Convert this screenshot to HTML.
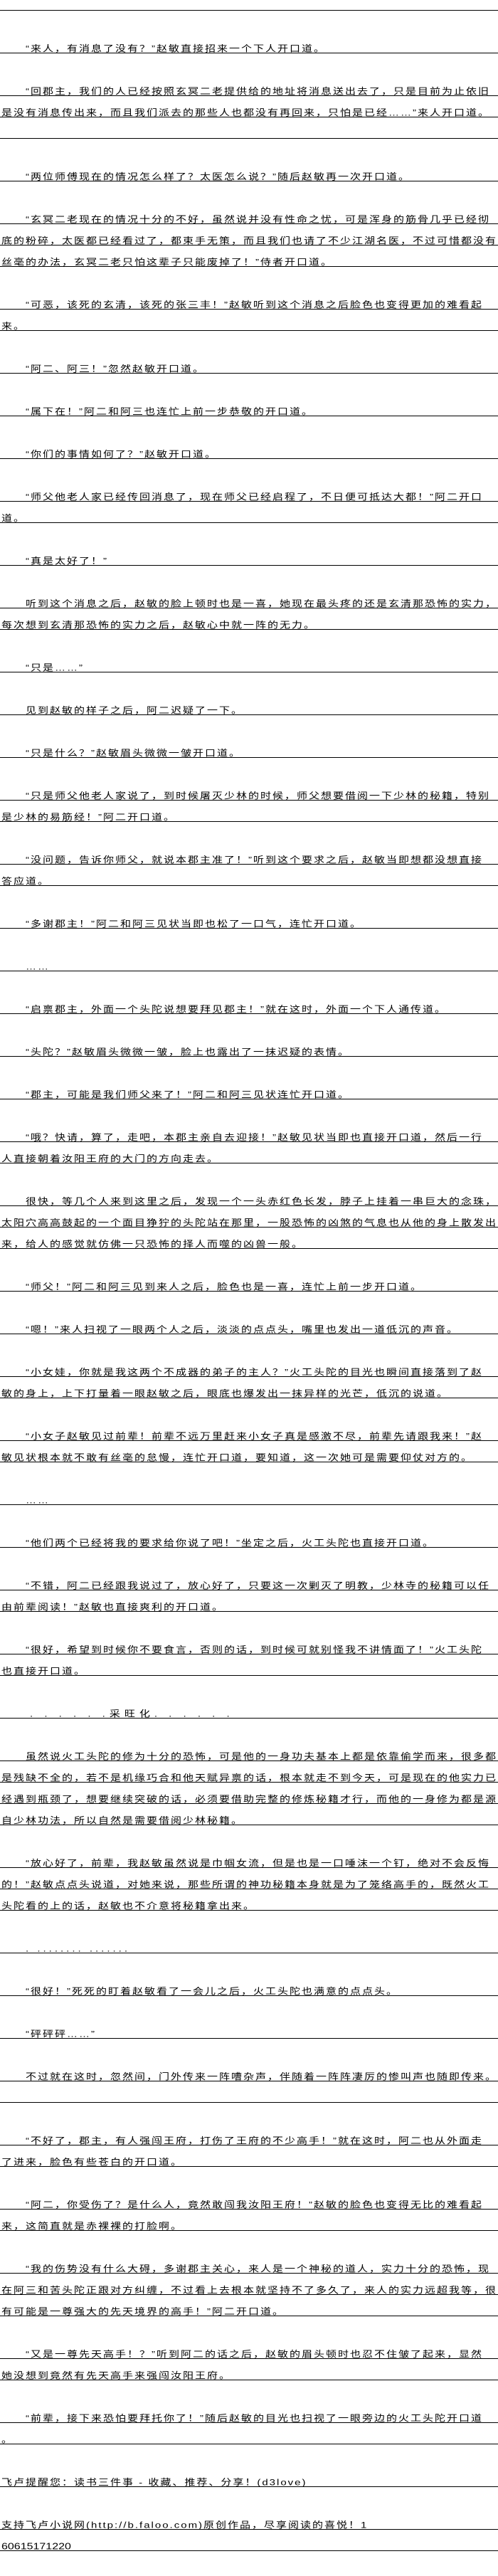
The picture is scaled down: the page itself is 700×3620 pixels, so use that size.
<!DOCTYPE html>
<html><head><meta charset="utf-8">
<style>
html,body{margin:0;padding:0;background:#fff;}
body{width:700px;height:3620px;position:relative;overflow:hidden;font-family:"Liberation Sans","Noto Sans CJK SC",sans-serif;}
.r{position:absolute;left:0;width:700px;height:30px;border-bottom:1px solid #000;}
.r span{position:absolute;bottom:-1px;white-space:nowrap;font-size:15px;line-height:15px;letter-spacing:2px;color:#000;transform:scaleY(.82);transform-origin:left bottom;}
.i span{left:36px;}
.c span{left:2px;}
</style></head><body>
<div class="r" style="top:-16px"></div>
<div class="r i" style="top:44px"><span>“来人，有消息了没有？”赵敏直接招来一个下人开口道。</span></div>
<div class="r i" style="top:104px"><span>“回郡主，我们的人已经按照玄冥二老提供给的地址将消息送出去了，只是目前为止依旧</span></div>
<div class="r c" style="top:134px"><span>是没有消息传出来，而且我们派去的那些人也都没有再回来，只怕是已经……”来人开口道。</span></div>
<div class="r" style="top:164px"></div>
<div class="r i" style="top:224px"><span>“两位师傅现在的情况怎么样了？太医怎么说？”随后赵敏再一次开口道。</span></div>
<div class="r i" style="top:284px"><span>“玄冥二老现在的情况十分的不好，虽然说并没有性命之忧，可是浑身的筋骨几乎已经彻</span></div>
<div class="r c" style="top:314px"><span>底的粉碎，太医都已经看过了，都束手无策，而且我们也请了不少江湖名医，不过可惜都没有</span></div>
<div class="r c" style="top:344px"><span>丝毫的办法，玄冥二老只怕这辈子只能废掉了！”侍者开口道。</span></div>
<div class="r i" style="top:404px"><span>“可恶，该死的玄清，该死的张三丰！”赵敏听到这个消息之后脸色也变得更加的难看起</span></div>
<div class="r c" style="top:434px"><span>来。</span></div>
<div class="r i" style="top:494px"><span>“阿二、阿三！”忽然赵敏开口道。</span></div>
<div class="r i" style="top:554px"><span>“属下在！”阿二和阿三也连忙上前一步恭敬的开口道。</span></div>
<div class="r i" style="top:614px"><span>“你们的事情如何了？”赵敏开口道。</span></div>
<div class="r i" style="top:674px"><span>“师父他老人家已经传回消息了，现在师父已经启程了，不日便可抵达大都！”阿二开口</span></div>
<div class="r c" style="top:704px"><span>道。</span></div>
<div class="r i" style="top:764px"><span>“真是太好了！”</span></div>
<div class="r i" style="top:824px"><span>听到这个消息之后，赵敏的脸上顿时也是一喜，她现在最头疼的还是玄清那恐怖的实力，</span></div>
<div class="r c" style="top:854px"><span>每次想到玄清那恐怖的实力之后，赵敏心中就一阵的无力。</span></div>
<div class="r i" style="top:914px"><span>“只是……”</span></div>
<div class="r i" style="top:974px"><span>见到赵敏的样子之后，阿二迟疑了一下。</span></div>
<div class="r i" style="top:1034px"><span>“只是什么？”赵敏眉头微微一皱开口道。</span></div>
<div class="r i" style="top:1094px"><span>“只是师父他老人家说了，到时候屠灭少林的时候，师父想要借阅一下少林的秘籍，特别</span></div>
<div class="r c" style="top:1124px"><span>是少林的易筋经！”阿二开口道。</span></div>
<div class="r i" style="top:1184px"><span>“没问题，告诉你师父，就说本郡主准了！”听到这个要求之后，赵敏当即想都没想直接</span></div>
<div class="r c" style="top:1214px"><span>答应道。</span></div>
<div class="r i" style="top:1274px"><span>“多谢郡主！”阿二和阿三见状当即也松了一口气，连忙开口道。</span></div>
<div class="r i" style="top:1334px"><span>……</span></div>
<div class="r i" style="top:1394px"><span>“启禀郡主，外面一个头陀说想要拜见郡主！”就在这时，外面一个下人通传道。</span></div>
<div class="r i" style="top:1454px"><span>“头陀？”赵敏眉头微微一皱，脸上也露出了一抹迟疑的表情。</span></div>
<div class="r i" style="top:1514px"><span>“郡主，可能是我们师父来了！”阿二和阿三见状连忙开口道。</span></div>
<div class="r i" style="top:1574px"><span>“哦？快请，算了，走吧，本郡主亲自去迎接！”赵敏见状当即也直接开口道，然后一行</span></div>
<div class="r c" style="top:1604px"><span>人直接朝着汝阳王府的大门的方向走去。</span></div>
<div class="r i" style="top:1664px"><span>很快，等几个人来到这里之后，发现一个一头赤红色长发，脖子上挂着一串巨大的念珠，</span></div>
<div class="r c" style="top:1694px"><span>太阳穴高高鼓起的一个面目狰狞的头陀站在那里，一股恐怖的凶煞的气息也从他的身上散发出</span></div>
<div class="r c" style="top:1724px"><span>来，给人的感觉就仿佛一只恐怖的择人而噬的凶兽一般。</span></div>
<div class="r i" style="top:1784px"><span>“师父！”阿二和阿三见到来人之后，脸色也是一喜，连忙上前一步开口道。</span></div>
<div class="r i" style="top:1844px"><span>“嗯！”来人扫视了一眼两个人之后，淡淡的点点头，嘴里也发出一道低沉的声音。</span></div>
<div class="r i" style="top:1904px"><span>“小女娃，你就是我这两个不成器的弟子的主人？”火工头陀的目光也瞬间直接落到了赵</span></div>
<div class="r c" style="top:1934px"><span>敏的身上，上下打量着一眼赵敏之后，眼底也爆发出一抹异样的光芒，低沉的说道。</span></div>
<div class="r i" style="top:1994px"><span>“小女子赵敏见过前辈！前辈不远万里赶来小女子真是感激不尽，前辈先请跟我来！”赵</span></div>
<div class="r c" style="top:2024px"><span>敏见状根本就不敢有丝毫的怠慢，连忙开口道，要知道，这一次她可是需要仰仗对方的。</span></div>
<div class="r i" style="top:2084px"><span>……</span></div>
<div class="r i" style="top:2144px"><span>“他们两个已经将我的要求给你说了吧！”坐定之后，火工头陀也直接开口道。</span></div>
<div class="r i" style="top:2204px"><span>“不错，阿二已经跟我说过了，放心好了，只要这一次剿灭了明教，少林寺的秘籍可以任</span></div>
<div class="r c" style="top:2234px"><span>由前辈阅读！”赵敏也直接爽利的开口道。</span></div>
<div class="r i" style="top:2294px"><span>“很好，希望到时候你不要食言，否则的话，到时候可就别怪我不讲情面了！”火工头陀</span></div>
<div class="r c" style="top:2324px"><span>也直接开口道。</span></div>
<div class="r" style="top:2384px"><span style="left:42px;letter-spacing:6px;">. . . . . .采旺化. .  . . . .</span></div>
<div class="r i" style="top:2444px"><span>虽然说火工头陀的修为十分的恐怖，可是他的一身功夫基本上都是依靠偷学而来，很多都</span></div>
<div class="r c" style="top:2474px"><span>是残缺不全的，若不是机缘巧合和他天赋异禀的话，根本就走不到今天，可是现在的他实力已</span></div>
<div class="r c" style="top:2504px"><span>经遇到瓶颈了，想要继续突破的话，必须要借助完整的修炼秘籍才行，而他的一身修为都是源</span></div>
<div class="r c" style="top:2534px"><span>自少林功法，所以自然是需要借阅少林秘籍。</span></div>
<div class="r i" style="top:2594px"><span>“放心好了，前辈，我赵敏虽然说是巾帼女流，但是也是一口唾沫一个钉，绝对不会反悔</span></div>
<div class="r c" style="top:2624px"><span>的！”赵敏点点头说道，对她来说，那些所谓的神功秘籍本身就是为了笼络高手的，既然火工</span></div>
<div class="r c" style="top:2654px"><span>头陀看的上的话，赵敏也不介意将秘籍拿出来。</span></div>
<div class="r" style="top:2714px"><span style="left:36px;letter-spacing:4px;">. ........ .......</span></div>
<div class="r i" style="top:2774px"><span>“很好！”死死的盯着赵敏看了一会儿之后，火工头陀也满意的点点头。</span></div>
<div class="r i" style="top:2834px"><span>“砰砰砰……”</span></div>
<div class="r i" style="top:2894px"><span>不过就在这时，忽然间，门外传来一阵嘈杂声，伴随着一阵阵凄厉的惨叫声也随即传来。</span></div>
<div class="r" style="top:2924px"></div>
<div class="r i" style="top:2984px"><span>“不好了，郡主，有人强闯王府，打伤了王府的不少高手！”就在这时，阿二也从外面走</span></div>
<div class="r c" style="top:3014px"><span>了进来，脸色有些苍白的开口道。</span></div>
<div class="r i" style="top:3074px"><span>“阿二，你受伤了？是什么人，竟然敢闯我汝阳王府！”赵敏的脸色也变得无比的难看起</span></div>
<div class="r c" style="top:3104px"><span>来，这简直就是赤裸裸的打脸啊。</span></div>
<div class="r i" style="top:3164px"><span>“我的伤势没有什么大碍，多谢郡主关心，来人是一个神秘的道人，实力十分的恐怖，现</span></div>
<div class="r c" style="top:3194px"><span>在阿三和苦头陀正跟对方纠缠，不过看上去根本就坚持不了多久了，来人的实力远超我等，很</span></div>
<div class="r c" style="top:3224px"><span>有可能是一尊强大的先天境界的高手！”阿二开口道。</span></div>
<div class="r i" style="top:3284px"><span>“又是一尊先天高手！？”听到阿二的话之后，赵敏的眉头顿时也忍不住皱了起来，显然</span></div>
<div class="r c" style="top:3314px"><span>她没想到竟然有先天高手来强闯汝阳王府。</span></div>
<div class="r i" style="top:3374px"><span>“前辈，接下来恐怕要拜托你了！”随后赵敏的目光也扫视了一眼旁边的火工头陀开口道</span></div>
<div class="r c" style="top:3404px"><span>。</span></div>
<div class="r c" style="top:3464px"><span>飞卢提醒您：读书三件事 - 收藏、推荐、分享！(d3love)</span></div>
<div class="r c" style="top:3524px"><span>支持飞卢小说网(http://b.faloo.com)原创作品，尽享阅读的喜悦！1</span></div>
<div class="r c" style="top:3554px"><span style="letter-spacing:0;font-size:16px;">60615171220</span></div>
</body></html>
